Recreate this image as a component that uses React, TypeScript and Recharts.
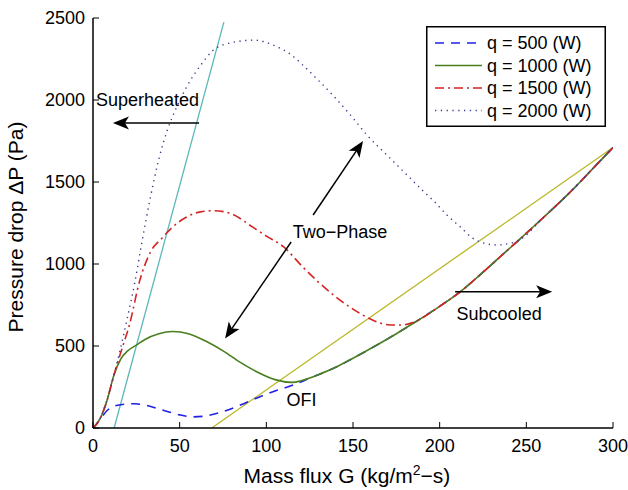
import React from "react";
import { LineChart, Line, XAxis, YAxis, ReferenceLine, ReferenceDot, Legend, Label } from "recharts";

const FONT = "'Liberation Sans', Arial, Helvetica, sans-serif";

const X_TICKS = [0, 50, 100, 150, 200, 250, 300];
const Y_TICKS = [0, 500, 1000, 1500, 2000, 2500];

// shared single-phase (subcooled) branch, all heat loads collapse onto it
const subG = [125, 130, 140, 150, 162, 175, 185, 200, 212, 225, 235, 245, 260, 275, 290, 300];
const subP = [305, 325, 370, 425, 495, 575, 640, 742, 832, 950, 1045, 1140, 1285, 1435, 1600, 1710];

// two-phase parts
const q500G = [0, 4, 8, 12, 18, 24, 30, 40, 50, 58, 66, 75, 85, 95, 105, 115, 122];
const q500P = [0, 50, 105, 132, 145, 148, 140, 110, 80, 68, 75, 100, 140, 185, 225, 260, 290];

const q1000G = [0, 4, 8, 12, 16, 20, 25, 30, 38, 46, 55, 65, 75, 85, 95, 105, 115, 120];
const q1000P = [0, 55, 165, 320, 420, 470, 505, 540, 575, 588, 575, 530, 470, 400, 340, 295, 278, 288];

const q1500G = [0, 4, 8, 12, 16, 21, 27, 33, 40, 46, 54, 62, 70, 80, 92, 100, 110, 121, 130, 140, 150, 160, 170, 178, 185];
const q1500P = [0, 55, 165, 320, 460, 628, 900, 1070, 1160, 1226, 1287, 1318, 1325, 1305, 1226, 1170, 1104, 982, 890, 800, 725, 665, 630, 628, 645];

const q2000G = [0, 4, 8, 12, 16, 20, 24, 28, 33, 38, 43, 48, 54, 62, 69, 80, 93, 105, 115, 121, 130, 140, 150, 158, 170, 180, 190, 196, 205, 212, 219, 226, 233, 240];
const q2000P = [0, 55, 170, 320, 490, 680, 880, 1120, 1400, 1640, 1820, 1950, 2080, 2210, 2300, 2350, 2365, 2330, 2270, 2213, 2120, 2010, 1890, 1787, 1660, 1555, 1450, 1390, 1290, 1225, 1158, 1126, 1116, 1125];

// regime boundary lines
const superheatG = [12.2, 75.5];
const superheatP = [0, 2475];
const subcoolG = [68.5, 300];
const subcoolP = [0, 1710];

const toRows = (g: number[], p: number[]) => g.map((G, i) => ({ G, P: p[i] }));
const withBranch = (g: number[], p: number[]) => {
  const last = g[g.length - 1];
  const rows = toRows(g, p);
  subG.forEach((G, i) => {
    if (G > last) rows.push({ G, P: subP[i] });
  });
  return rows;
};

const SERIES = [
  { name: "q = 500 (W)", rows: withBranch(q500G, q500P), color: "#2121e6", dash: "9 7", width: 1.6 },
  { name: "q = 1000 (W)", rows: withBranch(q1000G, q1000P), color: "#4a7f1e", dash: undefined, width: 1.6 },
  { name: "q = 1500 (W)", rows: withBranch(q1500G, q1500P), color: "#d42424", dash: "9 4 2 4", width: 1.6 },
  { name: "q = 2000 (W)", rows: withBranch(q2000G, q2000P), color: "#3a3a90", dash: "1.3 4.5", width: 1.4 },
];

const arrowShape = (props: any) => {
  const { x1, y1, x2, y2 } = props;
  const dx = x2 - x1;
  const dy = y2 - y1;
  const len = Math.hypot(dx, dy) || 1;
  const ux = dx / len;
  const uy = dy / len;
  const L = 16, W = 6.5, N = 4;
  const bx = x2 - ux * L, by = y2 - uy * L;
  const nx = -uy, ny = ux;
  const pts = [
    [x2, y2],
    [bx + nx * W, by + ny * W],
    [x2 - ux * (L - N), y2 - uy * (L - N)],
    [bx - nx * W, by - ny * W],
  ].map((p) => p.join(",")).join(" ");
  return (
    <g>
      <line x1={x1} y1={y1} x2={x2 - ux * (L - N)} y2={y2 - uy * (L - N)} stroke="#000" strokeWidth={1.5} />
      <polygon points={pts} fill="#000" />
    </g>
  );
};

const textShape = (label: string) => (props: any) => (
  <text x={props.cx} y={props.cy} textAnchor="middle" dominantBaseline="central" fontSize={18} fontFamily={FONT} fill="#000">
    {label}
  </text>
);

const renderLegend = () => (
  <svg width={180} height={101} style={{ display: "block" }}>
    <rect x={0.75} y={0.75} width={178.5} height={99.5} fill="#fff" stroke="#000" strokeWidth={1.5} />
    {SERIES.map((s, i) => {
      const cy = 17 + i * 22.5;
      return (
        <g key={s.name}>
          <line x1={9} x2={56} y1={cy} y2={cy} stroke={s.color} strokeWidth={s.width} strokeDasharray={s.dash} />
          <text x={61} y={cy} dominantBaseline="central" fontSize={18} fontFamily={FONT} fill="#000">
            {s.name}
          </text>
        </g>
      );
    })}
  </svg>
);

const tickStyle = { fontSize: 18, fill: "#000", fontFamily: FONT };

export default function App() {
  return (
    <div style={{ position: "absolute", left: 0, top: 0, width: 628, height: 490, background: "#fff" }}>
      <LineChart width={628} height={490} margin={{ top: 18, right: 15, bottom: 22, left: 33 }}>
        <XAxis
          dataKey="G"
          type="number"
          domain={[0, 300]}
          ticks={X_TICKS}
          height={40}
          tickSize={-6}
          tickMargin={17}
          tick={tickStyle}
          axisLine={{ stroke: "#000", strokeWidth: 1.5 }}
          tickLine={{ stroke: "#000" }}
          allowDataOverflow
        >
          <Label
            content={(p: any) => (
              <text x={347} y={483} textAnchor="middle" fontSize={21} fontFamily={FONT} fill="#000">
                Mass flux G (kg/m<tspan dy={-8} fontSize={14}>2</tspan><tspan dy={8}>−s)</tspan>
              </text>
            )}
          />
        </XAxis>
        <XAxis
          xAxisId="top"
          orientation="top"
          type="number"
          domain={[0, 300]}
          ticks={X_TICKS}
          height={0}
          tickSize={-6}
          tick={false}
          axisLine={{ stroke: "#000", strokeWidth: 1.5 }}
          tickLine={{ stroke: "#000" }}
          allowDataOverflow
        />
        <YAxis
          type="number"
          domain={[0, 2500]}
          ticks={Y_TICKS}
          width={60}
          tickSize={-6}
          tickMargin={14}
          tick={tickStyle}
          axisLine={{ stroke: "#000", strokeWidth: 1.5 }}
          tickLine={{ stroke: "#000" }}
          allowDataOverflow
        >
          <Label
            content={() => (
              <text transform="translate(23,227) rotate(-90)" textAnchor="middle" fontSize={21} fontFamily={FONT} fill="#000">
                Pressure drop ΔP (Pa)
              </text>
            )}
          />
        </YAxis>
        <YAxis
          yAxisId="right"
          orientation="right"
          type="number"
          domain={[0, 2500]}
          ticks={Y_TICKS}
          width={0}
          tickSize={-6}
          tick={false}
          axisLine={{ stroke: "#000", strokeWidth: 1.5 }}
          tickLine={{ stroke: "#000" }}
          allowDataOverflow
        />

        <Line data={toRows(superheatG, superheatP)} dataKey="P" stroke="#5cb8b8" strokeWidth={1.3} dot={false} isAnimationActive={false} legendType="none" />
        <Line data={toRows(subcoolG, subcoolP)} dataKey="P" stroke="#b8b828" strokeWidth={1.3} dot={false} isAnimationActive={false} legendType="none" />

        {SERIES.map((s) => (
          <Line
            key={s.name}
            data={s.rows}
            dataKey="P"
            name={s.name}
            type="monotone"
            stroke={s.color}
            strokeWidth={s.width}
            strokeDasharray={s.dash}
            dot={false}
            isAnimationActive={false}
          />
        ))}

        <ReferenceLine segment={[{ x: 61.2, y: 1860 }, { x: 11.5, y: 1860 }]} shape={arrowShape} />
        <ReferenceLine segment={[{ x: 127, y: 1299 }, { x: 155.8, y: 1750 }]} shape={arrowShape} />
        <ReferenceLine segment={[{ x: 114.3, y: 1134 }, { x: 76.2, y: 546 }]} shape={arrowShape} />
        <ReferenceLine segment={[{ x: 208.9, y: 831 }, { x: 264.9, y: 831 }]} shape={arrowShape} />

        <ReferenceDot x={31.4} y={2000} r={0} shape={textShape("Superheated")} />
        <ReferenceDot x={142.5} y={1195} r={0} shape={textShape("Two−Phase")} />
        <ReferenceDot x={120.3} y={171} r={0} shape={textShape("OFI")} />
        <ReferenceDot x={234.3} y={698} r={0} shape={textShape("Subcooled")} />

        <Legend
          layout="horizontal"
          verticalAlign="middle"
          align="center"
          content={renderLegend}
          wrapperStyle={{ position: "absolute", left: 426, top: 26, width: 180, height: 101 }}
        />
      </LineChart>
    </div>
  );
}
